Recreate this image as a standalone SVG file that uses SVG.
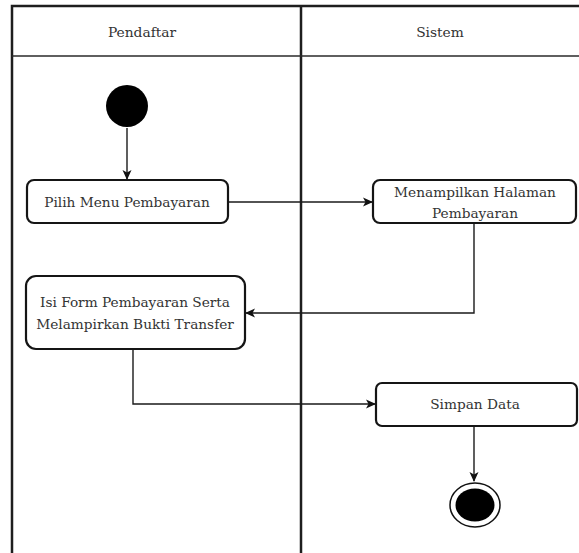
<svg xmlns="http://www.w3.org/2000/svg" width="579" height="553" viewBox="0 0 579 553">
  <style>
    .lane { stroke: #1e1e1e; stroke-width: 2.5; fill: none; }
    .hdr { stroke: #2a2a2a; stroke-width: 1.6; fill: none; }
    .act { fill: #ffffff; stroke: #151515; stroke-width: 2.2; }
    .edge { fill: none; stroke: #1a1a1a; stroke-width: 1.4; }
    .lbl { font-family: 'DejaVu Serif', serif; font-size: 13.7px; text-anchor: middle; fill: #333333; }
    .title { font-family: 'DejaVu Serif', serif; font-size: 13.8px; text-anchor: middle; fill: #333333; }
  </style>
  <defs>
    <marker id="arrow" markerWidth="10" markerHeight="10" refX="9" refY="5" orient="auto" markerUnits="userSpaceOnUse">
      <path d="M0,0.5 L10,5 L0,9.5 L2.5,5 Z" fill="#111"/>
    </marker>
  </defs>

  <rect width="579" height="553" fill="#ffffff"/>

  <!-- swimlanes -->
  <g id="lanes">
    <path class="lane" d="M12,553 V6 H579"/>
    <path class="lane" d="M301,6 V553"/>
    <path class="hdr" d="M12,56 H579"/>
    <text class="title" x="142" y="37">Pendaftar</text>
    <text class="title" x="440" y="37">Sistem</text>
  </g>

  <!-- connectors -->
  <g id="connectors">
    <path class="edge" d="M127,128 V179" marker-end="url(#arrow)"/>
    <path class="edge" d="M228,202 H372" marker-end="url(#arrow)"/>
    <path class="edge" d="M474,223 V313 H246" marker-end="url(#arrow)"/>
    <path class="edge" d="M133,349 V404 H375" marker-end="url(#arrow)"/>
    <path class="edge" d="M474,426 V481" marker-end="url(#arrow)"/>
  </g>

  <g id="start">
    <circle cx="127" cy="106" r="21" fill="#000"/>
  </g>

  <g id="pilih-menu">
    <rect class="act" x="27" y="180" width="201" height="43" rx="7"/>
    <text class="lbl" x="127" y="207">Pilih Menu Pembayaran</text>
  </g>

  <g id="tampil-halaman">
    <rect class="act" x="373" y="180" width="203" height="43" rx="7"/>
    <text class="lbl" x="475" y="197">Menampilkan Halaman</text>
    <text class="lbl" x="475" y="218">Pembayaran</text>
  </g>

  <g id="isi-form">
    <rect class="act" x="26" y="276" width="219" height="73" rx="10"/>
    <text class="lbl" x="135" y="307">Isi Form Pembayaran Serta</text>
    <text class="lbl" x="135" y="329">Melampirkan Bukti Transfer</text>
  </g>

  <g id="simpan-data">
    <rect class="act" x="376" y="383" width="201" height="43" rx="6"/>
    <text class="lbl" x="475" y="409">Simpan Data</text>
  </g>

  <g id="end">
    <ellipse cx="475" cy="505" rx="25" ry="22" fill="#fff" stroke="#111" stroke-width="1.5"/>
    <ellipse cx="475" cy="505" rx="19.5" ry="16.5" fill="#000"/>
  </g>
</svg>
